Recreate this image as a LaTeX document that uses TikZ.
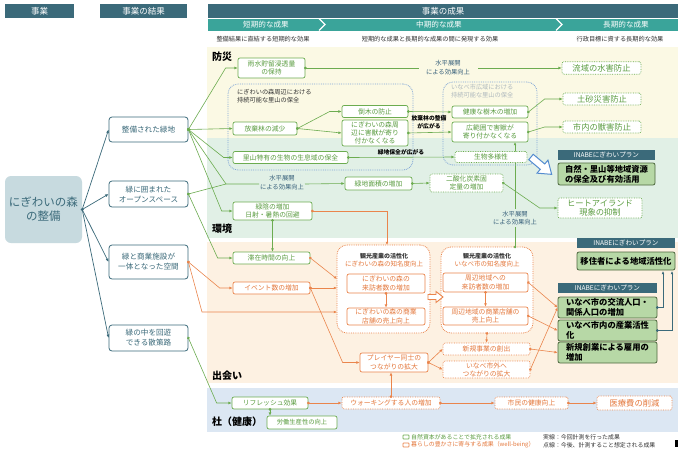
\documentclass[tikz,border=0pt]{standalone}
\usepackage{fontspec}
\setmainfont{Noto Sans CJK JP}
\usetikzlibrary{arrows.meta,calc}
\definecolor{dteal}{RGB}{59,106,122}
\definecolor{steal}{RGB}{58,164,154}
\definecolor{gline}{RGB}{108,172,80}
\definecolor{gtext}{RGB}{90,156,64}
\definecolor{oline}{RGB}{234,133,76}
\definecolor{otext}{RGB}{228,120,60}
\definecolor{bgy}{RGB}{251,249,228}
\definecolor{bgg}{RGB}{225,240,230}
\definecolor{bgo}{RGB}{253,241,226}
\definecolor{bgb}{RGB}{220,231,243}
\definecolor{pfill}{RGB}{183,216,166}
\definecolor{pline}{RGB}{78,104,62}
\definecolor{mfill}{RGB}{199,218,223}
\definecolor{bdot}{RGB}{128,166,214}
\definecolor{barrow}{RGB}{84,140,208}
\definecolor{stxt}{RGB}{58,98,124}
\definecolor{dtxt}{RGB}{50,50,50}
\definecolor{ftxt}{RGB}{175,185,190}
\newcommand\fz[2]{\fontsize{#1}{#2}\selectfont}
\tikzset{
 box/.style={rectangle, rounded corners=2pt, line width=0.7pt, fill=white, align=center, inner xsep=1pt, inner ysep=0pt},
 gbox/.style={box, draw=gline, text=gtext, font=\fz{6.8}{8.2}},
 obox/.style={box, draw=oline, text=otext, font=\fz{6.8}{8.2}},
 gdbox/.style={gbox, densely dotted},
 odbox/.style={obox, densely dotted},
 gbig/.style={gdbox, font=\fz{8.3}{9.6}},
 obig/.style={odbox, font=\fz{8.3}{9.6}},
 rbox/.style={box, draw=dteal, text=dteal, line width=0.8pt, rounded corners=3pt, font=\fz{7.6}{10}},
 mnode/.style={rectangle, rounded corners=6pt, fill=mfill, text=dteal, align=center, font=\fz{11.5}{14}, inner sep=0pt},
 hd/.style={rectangle, fill=dteal, text=white, font=\fz{8.5}{10}, inner sep=0pt},
 sh/.style={text=white, font=\fz{7.6}{9}, inner sep=0pt},
 desc/.style={text=dtxt, font=\fz{6.2}{7}, inner sep=0pt},
 zl/.style={text=black, font=\bfseries\fz{10}{12}, inner sep=0pt, anchor=west},
 phead/.style={rectangle, fill=dteal, text=white, font=\fz{6.6}{7}, inner sep=0pt, minimum height=10pt},
 pbody/.style={rectangle, rounded corners=2pt, fill=pfill, draw=pline, line width=0.8pt, text=black, font=\bfseries\fz{8.3}{10}, align=left, inner xsep=2.5pt, inner ysep=0pt},
 grp/.style={rectangle, draw=bdot, densely dotted, line width=0.8pt, rounded corners=10pt, inner sep=0pt},
 ogrp/.style={rectangle, draw=oline, densely dotted, line width=0.8pt, rounded corners=10pt, fill=white, inner sep=0pt},
 glab/.style={text=dtxt, font=\fz{6.2}{7.8}, align=left, inner sep=0pt, anchor=north west},
 kt/.style={text=dtxt, font=\bfseries\fz{6}{7}, inner sep=0pt},
 ks/.style={text=otext, font=\fz{6.5}{7}, inner sep=0pt},
 stx/.style={text=stxt, font=\fz{6.3}{8.5}, align=center, inner sep=0pt},
 btx/.style={text=black, font=\bfseries\fz{5.8}{8}, align=center, inner sep=0pt},
 lg/.style={font=\fz{5.9}{7}, inner sep=0pt, anchor=west},
 lnk/.style={line width=0.6pt, {Circle[length=2.6pt]}-{Latex[length=3.2pt,width=2.8pt]}, shorten <=-1.3pt},
 glink/.style={lnk, draw=gline},
 olink/.style={lnk, draw=oline},
 tlink/.style={lnk, draw=dteal},
 gdotonly/.style={draw=gline, line width=0.6pt, {Circle[length=2.6pt]}-, shorten <=-1.3pt},
 garrow/.style={draw=gline, line width=0.6pt, -{Latex[length=3.2pt,width=2.8pt]}},
 tarrow/.style={draw=dteal, line width=0.7pt, -{Latex[length=3.5pt,width=3pt]}},
}
\begin{document}
\begin{tikzpicture}[x=1pt,y=-1pt]
\useasboundingbox (0,0) rectangle (678,450);
\fill[white] (0,0) rectangle (678,450);
% zone backgrounds
\fill[bgy] (207,47) rectangle (678,138);
\fill[bgg] (207,138) rectangle (678,238);
\fill[bgo] (207,242) rectangle (678,383);
\fill[bgb] (207,388) rectangle (678,432);

% named free coordinates
\coordinate (j1) at (226,184);
\coordinate (s2w) at (259,184);
\coordinate (s2e) at (305,184);
\coordinate (s1w) at (419,68);
\coordinate (s1e) at (478,68);
\coordinate (v1) at (515,247);
\coordinate (v2) at (515,227);
\coordinate (v3) at (515,209);
\coordinate (v4) at (515,142);
\coordinate (b22) at (202,312);
\coordinate (k1c) at (337,312);
\coordinate (k1a) at (337,279);
\coordinate (k1b) at (337,288);
\coordinate (k1top) at (387,245);
\coordinate (u1) at (663,271);
\coordinate (u2) at (672,271);

% line passing under boxes
\draw[garrow] (v3) -- (v4);

% header
\node[hd, minimum width=69pt, minimum height=14pt] (h1) at (39.5,11) {事業};
\node[hd, minimum width=87pt, minimum height=14pt] (h2) at (143.5,11) {事業の結果};
\node[hd, minimum width=470pt, minimum height=14pt] (h3) at (443,11) {事業の成果};
\fill[steal] (208,18.5) rectangle (678,30.5);
\draw[white, line width=1.2pt] (319,18.5) -- (325,24.5) -- (319,30.5);
\draw[white, line width=1.2pt] (556,18.5) -- (562,24.5) -- (556,30.5);
\node[sh] (sh1) at (266,24.5) {短期的な成果};
\node[sh] (sh2) at (439,24.5) {中期的な成果};
\node[sh] (sh3) at (626,24.5) {長期的な成果};
\node[desc] (d1) at (263,39) {整備結果に直結する短期的な効果};
\node[desc] (d2) at (430,39) {短期的な成果と長期的な成果の間に発現する効果};
\node[desc] (d3) at (620,39) {行政目標に資する長期的な効果};

% zone labels
\node[zl] (z1) at (212,57) {防災};
\node[zl] (z2) at (212,229) {環境};
\node[zl] (z3) at (212,376) {出会い};
\node[zl] (z4) at (212,422) {杜（健康）};

% groups
\node[grp, minimum width=185pt, minimum height=86pt] (g1) at (320.5,127) {};
\node[grp, minimum width=94pt, minimum height=83pt] (g2) at (490,123.5) {};
\node[ogrp, minimum width=93pt, minimum height=88pt] (k1) at (383.5,289) {};
\node[ogrp, minimum width=92pt, minimum height=86pt] (k2) at (487,290) {};
\node[glab] (g1t) at (237,89) {にぎわいの森周辺における\\持続可能な里山の保全};
\node[glab, text=ftxt] (g2t) at (451,84) {いなべ市広域における\\持続可能な里山の保全};
\node[kt] (k1t) at (384,256.5) {観光産業の活性化};
\node[ks] (k1s) at (384,264) {にぎわいの森の知名度向上};
\node[kt] (k2t) at (487,256.5) {観光産業の活性化};
\node[ks] (k2s) at (487,264) {いなべ市の知名度向上};

% left column
\node[mnode, minimum width=77pt, minimum height=67pt] (main) at (43.5,209.5) {にぎわいの森\\の整備};
\node[rbox, minimum width=79pt, minimum height=25pt] (r1) at (148.5,129.5) {整備された緑地};
\node[rbox, minimum width=79pt, minimum height=26pt] (r2) at (148.5,194) {緑に囲まれた\\オープンスペース};
\node[rbox, minimum width=79pt, minimum height=34pt] (r3) at (148.5,262) {緑と商業施設が\\一体となった空間};
\node[rbox, minimum width=79pt, minimum height=26pt] (r4) at (148.5,338) {緑の中を回遊\\できる散策路};

% disaster prevention
\node[gbox, minimum width=67pt, minimum height=20pt] (usui) at (271.5,68) {雨水貯留浸透量\\の保持};
\node[gbox, minimum width=64pt, minimum height=13pt] (houki) at (265,128.5) {放棄林の減少};
\node[gbox, minimum width=66pt, minimum height=12pt] (toboku) at (375,111.5) {倒木の防止};
\node[gbox, minimum width=66pt, minimum height=26pt] (juugai) at (375,133) {にぎわいの森周\\辺に害獣が寄り\\付かなくなる};
\node[gbox, minimum width=115pt, minimum height=12pt] (satoyama) at (290.5,157.5) {里山特有の生物の生息域の保全};
\node[gbox, minimum width=76pt, minimum height=12pt] (kenkou) at (490,112) {健康な樹木の増加};
\node[gbox, minimum width=76pt, minimum height=20pt] (kouhan) at (490,132) {広範囲で害獣が\\寄り付かなくなる};
\node[gdbox, minimum width=72pt, minimum height=11pt] (seibutsu) at (491,157) {生物多様性};
\node[gbig, minimum width=79pt, minimum height=12.5pt] (ryuiki) at (601.5,68) {流域の水害防止};
\node[gbig, minimum width=78pt, minimum height=12pt] (dosha) at (602,99) {土砂災害防止};
\node[gbig, minimum width=78pt, minimum height=12pt] (shinai) at (602,127) {市内の獣害防止};
\node[stx] (s1) at (448,67.5) {水平展開\\による効果向上};
\node[btx] (l1) at (429,122.5) {放棄林の整備\\が広がる};
\node[btx] (l2) at (401,152) {緑地保全が広がる};

% environment
\node[stx] (s2) at (282,182.5) {水平展開\\による効果向上};
\node[gbox, minimum width=67pt, minimum height=13pt] (ryokuchi) at (378.5,183.5) {緑地面積の増加};
\node[gdbox, minimum width=73pt, minimum height=18pt] (co2) at (466.5,183) {二酸化炭素固\\定量の増加};
\node[gbig, minimum width=84pt, minimum height=20pt] (heat) at (600,208) {ヒートアイランド\\現象の抑制};
\node[gbox, minimum width=79pt, minimum height=18pt] (ryokuin) at (272.5,211) {緑陰の増加\\日射・暑熱の回避};
\node[stx, fill=bgg, inner ysep=1pt] (s3) at (515,218) {水平展開\\による効果向上};
\node[phead, minimum width=97pt] (p1h) at (606.5,155) {INABEにぎわいプラン};
\node[pbody, minimum width=97pt, minimum height=22pt] (p1) at (606.5,174) {自然・里山等地域資源\\の保全及び有効活用};

% encounters
\node[gbox, minimum width=77pt, minimum height=12pt] (taizai) at (271.5,258) {滞在時間の向上};
\node[obox, minimum width=77pt, minimum height=12pt] (event) at (271.5,288) {イベント数の増加};
\node[obox, minimum width=78pt, minimum height=19pt] (raihou1) at (386,283.5) {にぎわいの森の\\来訪者数の増加};
\node[obox, minimum width=78pt, minimum height=17pt] (shoten1) at (386,316.5) {にぎわいの森の商業\\店舗の売上向上};
\node[obox, minimum width=85pt, minimum height=19pt] (raihou2) at (485.5,282.5) {周辺地域への\\来訪者数の増加};
\node[obox, minimum width=85pt, minimum height=18pt] (shoten2) at (485.5,316) {周辺地域の商業店舗の\\売上向上};
\node[obox, minimum width=68pt, minimum height=19pt] (player) at (394,362.5) {プレイヤー同士の\\つながりの拡大};
\node[odbox, minimum width=87pt, minimum height=12pt] (shinki) at (486.5,349) {新規事業の創出};
\node[odbox, minimum width=87pt, minimum height=17pt] (shigai) at (486.5,369.5) {いなべ市外へ\\つながりの拡大};
\node[phead, minimum width=98pt] (p2h) at (626,243) {INABEにぎわいプラン};
\node[pbody, minimum width=98pt, minimum height=18pt] (iju) at (626,261) {移住者による地域活性化};
\node[phead, minimum width=99pt] (p3h) at (607.5,288) {INABEにぎわいプラン};
\node[pbody, minimum width=99pt, minimum height=21pt] (kouryu) at (607.5,307.5) {いなべ市の交流人口・\\関係人口の増加};
\node[pbody, minimum width=99pt, minimum height=21pt] (sangyou) at (607.5,330.5) {いなべ市内の産業活性\\化};
\node[pbody, minimum width=99pt, minimum height=21pt] (koyou) at (607.5,352.5) {新規創業による雇用の\\増加};

% health
\node[gbox, minimum width=76pt, minimum height=12pt] (refresh) at (270,403) {リフレッシュ効果};
\node[gbox, minimum width=70pt, minimum height=13pt, font=\fz{6.3}{7.5}] (roudou) at (302,422.5) {労働生産性の向上};
\node[odbox, minimum width=98pt, minimum height=12pt] (walking) at (391,403) {ウォーキングする人の増加};
\node[odbox, minimum width=73pt, minimum height=12pt] (shimin) at (531.5,403) {市民の健康向上};
\node[obig, minimum width=75pt, minimum height=14pt] (iryou) at (634.5,403) {医療費の削減};

% big outline arrows
\begin{scope}[shift={(531,157)}, rotate=-40]
\draw[barrow, line width=1pt, fill=white, line join=miter] (0,-3.5) -- (15,-3.5) -- (15,-8.5) -- (27,0) -- (15,8.5) -- (15,3.5) -- (0,3.5) -- cycle;
\end{scope}
\begin{scope}[shift={(428,297)}]
\draw[oline, line width=0.9pt, fill=white] (0,-2.5) -- (8,-2.5) -- (8,-5.5) -- (15,0) -- (8,5.5) -- (8,2.5) -- (0,2.5) -- cycle;
\end{scope}

% connectors: main to results
\fill[dteal] (main.east) circle[radius=1.6pt];
\foreach \t in {r1,r2,r3,r4} \draw[tarrow] (main.east) -- (\t.west);

% green connectors
\draw[glink] (r1.east) -- ([xshift=-12pt]usui.west) -- (usui.west);
\draw[glink] (r1.east) -- (houki.west);
\draw[glink] (r1.east) -- ([xshift=-9pt]satoyama.west) -- (satoyama.west);
\draw[gdotonly] (r1.east) -- (j1) -- (s2w);
\draw[gdotonly] (r2.east) -- (j1);
\draw[garrow] (s2e) -- (ryokuchi.west);
\draw[glink] (r1.east) -- ([xshift=-11pt]ryokuin.west) -- (ryokuin.west);
\draw[glink] (r2.east) -- ([xshift=-15pt]taizai.west) -- (taizai.west);
\draw[glink] (r4.east) -- ([xshift=-15pt]refresh.west) -- (refresh.west);
\draw[gdotonly] (usui.east) -- (s1w);
\draw[garrow] (s1e) -- (ryuiki.west);
\draw[glink] (houki.east) -- ([xshift=-12pt]toboku.west) -- (toboku.west);
\draw[glink] (houki.east) -- (juugai.west);
\draw[glink] (toboku.east) -- (kenkou.west);
\draw[glink] (juugai.east) -- (kouhan.west);
\draw[glink] (kenkou.east) -- ([xshift=-18pt]dosha.west) -- (dosha.west);
\draw[glink] (kouhan.east) -- ([xshift=-18pt]shinai.west) -- (shinai.west);
\draw[glink] (satoyama.east) -- (seibutsu.west);
\draw[glink] (ryokuchi.east) -- (co2.west);
\draw[glink] (co2.east) -- ([xshift=-18pt]heat.west) -- (heat.west);
\draw[glink] (ryokuin.south) -- (ryokuin.south |- taizai.north);
\draw[gdotonly] (v1) -- (v2);
\draw[glink] (refresh.south) -- (refresh.south |- roudou.north);

% orange connectors
\draw[olink] (r3.east) -- ([xshift=-13pt]event.west) -- (event.west);
\draw[olink] (r3.east) -- (b22) -- (k1c);
\draw[olink] (ryokuin.east) -| (k1top);
\draw[olink] (taizai.east) -- (k1a);
\draw[olink] (event.east) -- (k1b);
\draw[olink] (event.east) -- ([xshift=-17pt]player.west) -- (player.west);
\draw[olink] (raihou1.south) -- (shoten1.north);
\draw[olink] (raihou2.south) -- (shoten2.north);
\draw[olink] (raihou2.east) -- (kouryu.west);
\draw[olink] (shoten2.east) -- (sangyou.west);
\draw[olink] (shigai.east) -- (kouryu.west);
\draw[olink] (k2.south) -- (shinki.north);
\draw[olink] (player.east) -- (shinki.west);
\draw[olink] (player.east) -- (shigai.west);
\draw[olink] (shinki.east) -- (koyou.west);
\draw[olink] (refresh.east) -- (walking.west);
\draw[olink] (walking.north) -- (walking.north |- player.south);
\draw[olink] (walking.east) -- (shimin.west);
\draw[olink] (shimin.east) -- (iryou.west);

% teal connectors
\draw[tlink] (kouryu.east) -| (u1);
\draw[tlink] (sangyou.east) -| (u2);

% legend
\draw[gline, line width=0.6pt, rounded corners=0.6pt] (403,435) rectangle (409,439);
\draw[oline, line width=0.6pt, rounded corners=0.6pt] (403,443) rectangle (409,447);
\node[lg, text=gtext] (lg1) at (411,437) {自然資本があることで拡充される成果};
\node[lg, text=otext] (lg2) at (411,445) {暮らしの豊かさに寄与する成果（well-being）};
\node[lg, text=dtxt] (lg3) at (543,437) {実線：今回計測を行った成果};
\node[lg, text=dtxt] (lg4) at (543,445) {点線：今後、計測すること想定される成果};
\fill[black] (675,440) rectangle (678,447);
\end{tikzpicture}
\end{document}
